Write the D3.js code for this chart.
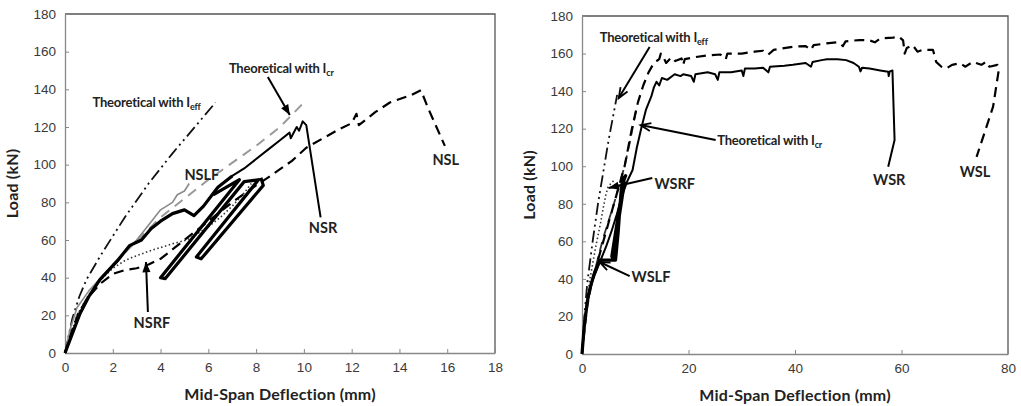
<!DOCTYPE html>
<html>
<head>
<meta charset="utf-8">
<script src="https://cdn.jsdelivr.net/npm/d3@7"></script>
<style>
  body { margin: 0; background: #fff; }
  svg { display: block; font-family: Lato, "Open Sans", sans-serif; }
  .tick text { fill: #3a3a3a; font-size: 13.5px; }
  .axis-title { font-weight: bold; font-size: 16px; fill: #222; letter-spacing: 0.2px; }
  .note { font-weight: bold; font-size: 13px; fill: #222; letter-spacing: -0.2px; }
  .tag { font-weight: bold; font-size: 14.5px; fill: #222; }
</style>
</head>
<body>
<svg id="chart" width="1021" height="406"></svg>
<script>
// ---- data, [deflection mm, load kN] ----
const yTicks = [0, 20, 40, 60, 80, 100, 120, 140, 160, 180];
const leftXTicks = [0, 2, 4, 6, 8, 10, 12, 14, 16, 18];
const rightXTicks = [0, 20, 40, 60, 80];

// left panel
const nsIeff = [[0,0],[0.3,18],[0.6,30],[0.9,39],[1.5,52],[2.5,72],[3.5,90],[4.5,106],[5.5,121],[6.3,133]];
const nsIcr = [[0,0],[0.5,20],[1,31],[2,47],[4,72],[6,92],[8,110],[9,120],[10,133]];
const nslf = [[0,0],[0.2,12],[0.5,24],[1,33],[1.5,40],[2,47],[2.5,54],[3,60],[3.5,68],[4,76],[4.5,80],[4.7,84],[5,86],[5.2,90]];
const nsr = [[0,0],[0.3,10],[0.63,21],[1,30],[1.46,39],[2.2,49],[2.7,57],[3.2,60],[3.6,66],[4,70],[4.5,74],[5,76],[5.4,73],[5.8,78],
  [6.4,88],[7,94],[7.5,98],[8,103],[8.5,108],[9,113],[9.4,117],[9.45,114],[9.7,120],[9.8,118],[9.95,123],[10.1,121],[10.7,72]];
const nsrLoops = [[6.2,84],[7.3,92],[4.0,40],[4.2,39.5],[7.5,91],[8.1,92],[5.5,51],[5.7,50],[8.3,89],[8.2,93]];
const nsl = [[0,0],[0.3,12],[0.6,22],[1,30],[1.5,37],[2,42],[2.5,44],[3,45],[3.5,47],[4,50],[4.5,55],[5,60],[6,70],[7,80],[8,89],
  [8.6,94],[9.5,102],[10.1,109],[10.8,114],[11.5,119],[12,122],[12.2,127],[12.3,121],[13,128],[13.6,133],[14.5,137],[14.9,139.5],[15.2,130],[15.9,110]];
const nsrf = [[0,0],[0.5,20],[1,31],[1.5,39],[2,45],[2.5,49],[2.85,51],[3.5,54],[4,56],[4.5,58],[5.1,60],[5.5,63],[6,67],[6.5,72],[7,78],[7.5,85],[7.8,90]];

// right panel
const wsIeff = [[0,0],[0.5,22],[1,38],[2,60],[3,80],[4,97],[5,114],[6,129],[6.6,138]];
const wsIcr = [[0,0],[1,25],[2,40],[4,62],[6,80],[8,100],[9,113],[10.3,132]];
const wsr = [[0,0],[0.5,16],[1.1,30],[1.5,35],[2.5,43],[3.5,50],[4.5,57],[5.5,65],[6.5,74],[7.5,84],[8.5,92],[9.5,98],[10.3,110],
  [11.2,121],[12,130],[13,137],[13.5,142],[14,145],[14.5,143],[15,147],[16,146],[17.4,149],[18.5,148],[19,149],[20.5,148],[21,145],
  [21.3,149],[23.6,150],[25,149],[25.5,146],[25.8,150],[28,150],[30,151],[30.3,148],[30.6,152],[32.4,152],[34,152.5],[35,150],
  [35.3,153],[38,153.5],[39.6,154],[42,155],[43,153],[43.3,155.5],[45,156.5],[46,157],[48,157],[49.6,156.5],[51,155],[52,153],
  [52.3,150.5],[52.6,152.5],[54,152],[56,151],[57.5,150.3],[57.6,148],[57.8,150.5],[58.3,151],[58.7,114],[57.5,99.7]];
const wsl = [[0,0],[0.5,16],[1,28],[2,40],[3,50],[4,60],[5,70],[6,80],[7,90],[8,100],[9.3,119],[10.5,134],[11.5,143],[12.5,150],
  [13.5,155],[14.5,157],[14.8,160],[15.3,158],[15.8,155],[16.8,158],[17.5,156],[18.7,157.4],[19,154],[19.3,157],[21,158],[23.6,159],
  [26,159.5],[27,157],[27.3,160],[30,160],[32.4,161],[34,161.5],[35,159.5],[36,162],[39.6,163.6],[42,164],[43,162],[43.5,164.5],
  [45.9,165.4],[48,166],[49,164],[49.5,166.5],[52.1,167.2],[54,167],[55,166],[56,168],[58.4,168.5],[59.5,169],[60.3,167],[60.6,160],
  [61,163],[62.1,164.5],[63,161],[64,162],[65.9,162],[66.3,158],[66.5,155.6],[67.5,153],[68.4,152],[69.5,154],[71,154.8],[72,153],
  [73.4,155.6],[75,154],[75.9,155.6],[76.5,153],[78,154],[78.2,150],[77.2,131.7],[74.1,105]];
const wslf = [[0,0],[0.4,14],[1,28],[1.5,35],[2.2,42],[3.3,50],[4.5,50],[6.3,50],[6.8,65],[7.3,85],[7.6,93],[8.2,95],[7.8,92],
  [5.6,52],[5.8,51],[8.0,92]];
const wsrf = [[0,0],[0.5,18],[1,30],[1.5,40],[2,48],[2.5,56],[3,63],[3.5,70],[4,78],[4.5,85],[4.9,89],[5.5,91],[6.2,93]];

// ---- styles ----
const styles = {
  ieff: { stroke: '#111', width: 1.8, dash: '12,4,2,4,2,4' },
  icrGray: { stroke: '#999', width: 2, dash: '10,7' },
  icrDark: { stroke: '#333', width: 1.8, dash: '9,6' },
  solid: { stroke: '#000', width: 2, dash: null },
  thick: { stroke: '#000', width: 3.2, dash: null },
  gray: { stroke: '#8a8a8a', width: 1.6, dash: null },
  dashed: { stroke: '#000', width: 2.2, dash: '10,6' },
  dotted: { stroke: '#333', width: 1.6, dash: '1.5,2.5' },
};

const svg = d3.select('#chart');

function drawPanel(cfg) {
  const x = d3.scaleLinear().domain(cfg.xDomain).range([cfg.left, cfg.right]);
  const y = d3.scaleLinear().domain([0, 180]).range([cfg.bottom, cfg.top]);
  const g = svg.append('g');

  // frame top and right
  g.append('path')
    .attr('d', `M${cfg.left},${cfg.top}H${cfg.right}V${cfg.bottom}`)
    .attr('fill', 'none').attr('stroke', '#555').attr('stroke-width', 1.3);

  const xAxis = g.append('g')
    .attr('transform', `translate(0,${cfg.bottom})`)
    .call(d3.axisBottom(x).tickValues(cfg.xTicks).tickSizeInner(-4).tickSizeOuter(0).tickPadding(9));
  const yAxis = g.append('g')
    .attr('transform', `translate(${cfg.left},0)`)
    .call(d3.axisLeft(y).tickValues(yTicks).tickSizeInner(-4).tickSizeOuter(0).tickPadding(9));
  [xAxis, yAxis].forEach(a => {
    a.select('.domain').attr('stroke', '#888').attr('stroke-width', 1.3);
    a.selectAll('.tick line').attr('stroke', '#888');
  });

  // axis titles
  g.append('text').attr('class', 'axis-title')
    .attr('x', (cfg.left + cfg.right) / 2).attr('y', cfg.bottom + 47)
    .attr('text-anchor', 'middle').text('Mid-Span Deflection (mm)');
  g.append('text').attr('class', 'axis-title')
    .attr('transform', `translate(${cfg.left - 47},${(cfg.top + cfg.bottom) / 2}) rotate(-90)`)
    .attr('text-anchor', 'middle').text('Load (kN)');

  const line = d3.line().x(d => x(d[0])).y(d => y(d[1]));
  cfg.series.forEach(s => {
    const st = styles[s.style];
    g.append('path').datum(s.data)
      .attr('d', line)
      .attr('fill', 'none')
      .attr('stroke', st.stroke)
      .attr('stroke-width', st.width)
      .attr('stroke-dasharray', st.dash)
      .attr('stroke-linejoin', 'round');
  });

  // labels
  cfg.labels.forEach(l => {
    const t = g.append('text').attr('class', l.cls)
      .attr('x', x(l.at[0])).attr('y', y(l.at[1]))
      .attr('text-anchor', l.anchor || 'start');
    t.append('tspan').text(l.text);
    if (l.sub) t.append('tspan').attr('font-size', '9px').attr('dy', 3).text(l.sub);
  });

  // arrows
  cfg.arrows.forEach(a => {
    const x1 = x(a.from[0]), y1 = y(a.from[1]);
    const x2 = x(a.to[0]), y2 = y(a.to[1]);
    const ang = Math.atan2(y2 - y1, x2 - x1);
    const len = 11, spread = 0.38;
    const p1 = [x2 - len * Math.cos(ang - spread), y2 - len * Math.sin(ang - spread)];
    const p2 = [x2 - len * Math.cos(ang + spread), y2 - len * Math.sin(ang + spread)];
    g.append('line').attr('x1', x1).attr('y1', y1).attr('x2', x2).attr('y2', y2)
      .attr('stroke', '#000').attr('stroke-width', 2);
    if (a.head === 'fill') {
      g.append('path').attr('d', `M${x2},${y2}L${p1[0]},${p1[1]}L${p2[0]},${p2[1]}Z`).attr('fill', '#000');
    } else {
      g.append('path').attr('d', `M${p1[0]},${p1[1]}L${x2},${y2}L${p2[0]},${p2[1]}`)
        .attr('fill', 'none').attr('stroke', '#000').attr('stroke-width', 1.8);
    }
  });
}

drawPanel({
  left: 65, right: 495, top: 14, bottom: 353,
  xDomain: [0, 18], xTicks: leftXTicks,
  series: [
    { data: nsIcr, style: 'icrGray' },
    { data: nsIeff, style: 'ieff' },
    { data: nslf, style: 'gray' },
    { data: nsrf, style: 'dotted' },
    { data: nsl, style: 'dashed' },
    { data: nsr, style: 'solid' },
    { data: nsr.slice(0, 16), style: 'thick' },
    { data: nsrLoops, style: 'thick' },
  ],
  labels: [
    { text: 'Theoretical with I', sub: 'eff', at: [1.15, 130.6], cls: 'note' },
    { text: 'Theoretical with I', sub: 'cr', at: [6.86, 148.7], cls: 'note' },
    { text: 'NSLF', at: [5.73, 92], cls: 'tag', anchor: 'middle' },
    { text: 'NSR', at: [10.8, 63.7], cls: 'tag', anchor: 'middle' },
    { text: 'NSL', at: [15.94, 99.8], cls: 'tag', anchor: 'middle' },
    { text: 'NSRF', at: [3.64, 13.3], cls: 'tag', anchor: 'middle' },
  ],
  arrows: [
    { from: [8.49, 146.6], to: [9.41, 126.4], head: 'fill' },
    { from: [3.47, 21.8], to: [3.39, 48.3], head: 'fill' },
  ],
});

drawPanel({
  left: 582, right: 1008, top: 16, bottom: 354,
  xDomain: [0, 80], xTicks: rightXTicks,
  series: [
    { data: wsIcr, style: 'icrDark' },
    { data: wsIeff, style: 'ieff' },
    { data: wsrf, style: 'dotted' },
    { data: wsl, style: 'dashed' },
    { data: wsr, style: 'solid' },
    { data: wslf, style: 'thick' },
  ],
  labels: [
    { text: 'Theoretical with I', sub: 'eff', at: [3.32, 166.1], cls: 'note' },
    { text: 'Theoretical with I', sub: 'cr', at: [25.4, 111.3], cls: 'note' },
    { text: 'WSRF', at: [13.6, 87.9], cls: 'tag' },
    { text: 'WSLF', at: [9.3, 38.3], cls: 'tag' },
    { text: 'WSR', at: [57.7, 90], cls: 'tag', anchor: 'middle' },
    { text: 'WSL', at: [73.8, 94.5], cls: 'tag', anchor: 'middle' },
  ],
  arrows: [
    { from: [12.7, 163.5], to: [6.9, 136.3], head: 'open' },
    { from: [25.1, 114], to: [11.0, 121.9], head: 'open' },
    { from: [13.2, 93.7], to: [5.0, 88.4], head: 'fill' },
    { from: [8.96, 41.5], to: [3.3, 49], head: 'open' },
  ],
});
</script>
</body>
</html>
